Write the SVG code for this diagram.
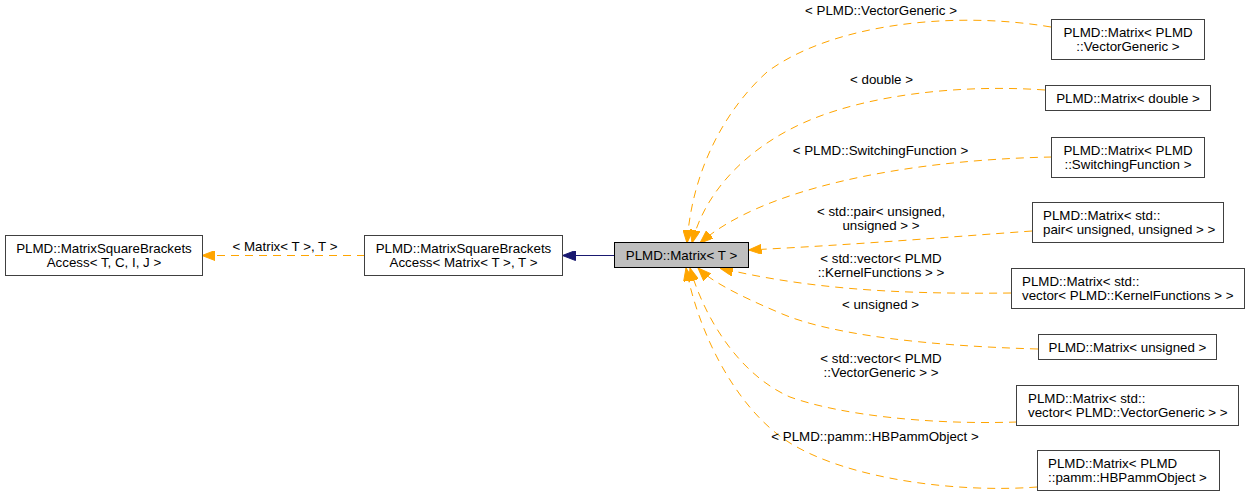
<svg xmlns="http://www.w3.org/2000/svg" width="1251" height="497" viewBox="0 0 1251 497">
<style>
  text { font-family: "Liberation Sans", Arial, sans-serif; font-size: 13.33px; fill: #000; }
  .c { text-anchor: middle; }
  .node { fill: #ffffff; stroke: #404040; stroke-width: 1; }
  .main { fill: #bfbfbf; stroke: #000000; stroke-width: 1; }
  .dep { fill: none; stroke: #ffa500; stroke-width: 1; stroke-dasharray: 8,6; }
  .inh { fill: none; stroke: #191970; stroke-width: 1; }
</style>
<defs>
  <marker id="ao" markerUnits="userSpaceOnUse" viewBox="0 0 13 10" markerWidth="13" markerHeight="10" refX="13" refY="5" orient="auto">
    <path d="M0,0 L13,5 L0,10 z" fill="#ffa500" stroke="#ffa500" stroke-width="1"/>
  </marker>
  <marker id="an" markerUnits="userSpaceOnUse" viewBox="0 0 13 10" markerWidth="13" markerHeight="10" refX="13" refY="5" orient="auto">
    <path d="M0,0 L13,5 L0,10 z" fill="#191970" stroke="#191970" stroke-width="1"/>
  </marker>
</defs>

<g id="connectors">
  <path class="dep" d="M365,255.5 L202,255.5" marker-end="url(#ao)"/>
  <path class="inh" d="M614,255.5 L562.5,255.5" marker-end="url(#an)"/>
  <path class="dep" d="M1051,27 C950,10 830,25 767,72 C725,110 692,170 687,243" marker-end="url(#ao)"/>
  <path class="dep" d="M1045,90 C960,84 870,95 810,120 C750,145 705,190 692,243" marker-end="url(#ao)"/>
  <path class="dep" d="M1052,157 C900,160 760,190 700,243" marker-end="url(#ao)"/>
  <path class="dep" d="M1032,231 C950,237 850,245 748.5,250" marker-end="url(#ao)"/>
  <path class="dep" d="M1011,293 C920,294 820,292 720,268" marker-end="url(#ao)"/>
  <path class="dep" d="M1038,349 C930,346 830,335 780,313 C740,296 712,282 698,268" marker-end="url(#ao)"/>
  <path class="dep" d="M1017,422 C930,425 840,415 790,397 C740,375 705,320 690,268" marker-end="url(#ao)"/>
  <path class="dep" d="M1037,487 C960,493 850,480 790,443 C740,412 700,340 686,268" marker-end="url(#ao)"/>
  <g id="edge-labels">
    <text class="c" x="285" y="251">&lt; Matrix&lt; T &gt;, T &gt;</text>
    <text class="c" x="881" y="15">&lt; PLMD::VectorGeneric &gt;</text>
    <text class="c" x="881.5" y="84">&lt; double &gt;</text>
    <text class="c" x="880.5" y="155">&lt; PLMD::SwitchingFunction &gt;</text>
    <text class="c" x="881" y="216">&lt; std::pair&lt; unsigned,</text>
    <text class="c" x="881" y="230">unsigned &gt; &gt;</text>
    <text class="c" x="881" y="263">&lt; std::vector&lt; PLMD</text>
    <text class="c" x="881" y="277">::KernelFunctions &gt; &gt;</text>
    <text class="c" x="880.5" y="309">&lt; unsigned &gt;</text>
    <text class="c" x="881" y="363">&lt; std::vector&lt; PLMD</text>
    <text class="c" x="881" y="377">::VectorGeneric &gt; &gt;</text>
    <text class="c" x="875" y="441">&lt; PLMD::pamm::HBPammObject &gt;</text>
  </g>
</g>

<g id="node-base">
  <rect class="node" x="5.5" y="235.5" width="197" height="40"/>
  <text class="c" x="104" y="252.5">PLMD::MatrixSquareBrackets</text>
  <text class="c" x="104" y="266.5">Access&lt; T, C, I, J &gt;</text>
</g>
<g id="node-access">
  <rect class="node" x="364.5" y="235.5" width="198" height="40"/>
  <text class="c" x="463.5" y="252.5">PLMD::MatrixSquareBrackets</text>
  <text class="c" x="463.5" y="266.5">Access&lt; Matrix&lt; T &gt;, T &gt;</text>
</g>
<g id="node-matrix">
  <rect class="main" x="614.5" y="242.5" width="134" height="25"/>
  <text class="c" x="681.5" y="259.5">PLMD::Matrix&lt; T &gt;</text>
</g>
<g id="node-vectorgeneric">
  <rect class="node" x="1051.5" y="19.5" width="153" height="40"/>
  <text class="c" x="1128" y="36.5">PLMD::Matrix&lt; PLMD</text>
  <text class="c" x="1128" y="50.5">::VectorGeneric &gt;</text>
</g>
<g id="node-double">
  <rect class="node" x="1045.5" y="85.5" width="165" height="25"/>
  <text class="c" x="1128" y="102.5">PLMD::Matrix&lt; double &gt;</text>
</g>
<g id="node-switching">
  <rect class="node" x="1051.5" y="137.5" width="153" height="40"/>
  <text class="c" x="1128" y="154.5">PLMD::Matrix&lt; PLMD</text>
  <text class="c" x="1128" y="168.5">::SwitchingFunction &gt;</text>
</g>
<g id="node-pair">
  <rect class="node" x="1032.5" y="202.5" width="191" height="40"/>
  <text x="1043" y="219.5">PLMD::Matrix&lt; std::</text>
  <text x="1043" y="233.5">pair&lt; unsigned, unsigned &gt; &gt;</text>
</g>
<g id="node-kernel">
  <rect class="node" x="1011.5" y="268.5" width="233" height="40"/>
  <text x="1022" y="285.5">PLMD::Matrix&lt; std::</text>
  <text x="1022" y="299.5">vector&lt; PLMD::KernelFunctions &gt; &gt;</text>
</g>
<g id="node-unsigned">
  <rect class="node" x="1038.5" y="334.5" width="178" height="25"/>
  <text class="c" x="1127.5" y="351.5">PLMD::Matrix&lt; unsigned &gt;</text>
</g>
<g id="node-vecvg">
  <rect class="node" x="1016.5" y="385.5" width="222" height="40"/>
  <text x="1028" y="402.5">PLMD::Matrix&lt; std::</text>
  <text x="1028" y="416.5">vector&lt; PLMD::VectorGeneric &gt; &gt;</text>
</g>
<g id="node-hbpamm">
  <rect class="node" x="1037.5" y="450.5" width="182" height="40"/>
  <text x="1048" y="467.5">PLMD::Matrix&lt; PLMD</text>
  <text x="1048" y="481.5">::pamm::HBPammObject &gt;</text>
</g>
</svg>
